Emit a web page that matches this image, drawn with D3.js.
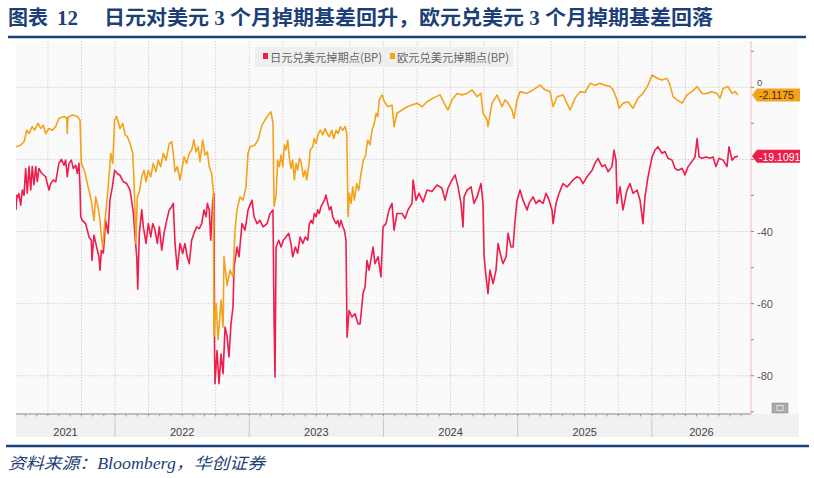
<!DOCTYPE html>
<html><head><meta charset="utf-8">
<script src="https://cdn.jsdelivr.net/npm/d3@7"></script>
<style>body{margin:0;background:#fff}</style>
</head><body><svg id="c" width="814" height="478"></svg>
<script>
// ---- data ----
const titleLead = "图表";
const titleNum = "12";
const titleMain = "日元对美元 3 个月掉期基差回升，欧元兑美元 3 个月掉期基差回落";
const sourceText = "资料来源：Bloomberg，华创证券";
const seriesNames = ["日元兑美元掉期点(BP)", "欧元兑美元掉期点(BP)"];
const yearLabels = [2021, 2022, 2023, 2024, 2025, 2026];
const gridValues = [0, -20, -40, -60, -80];
const axisLabels = [0, -40, -60, -80];
const lastValues = [-19.1091, -2.1175];
const lastLabels = ["-19.1091", "-2.1175"];
// [decimal year, bp]
const jpy = [[2021.262,-34],[2021.269,-29.9],[2021.279,-30.4],[2021.284,-29.5],[2021.297,-32.7],[2021.309,-28.5],[2021.322,-29.9],[2021.334,-22.5],[2021.346,-29.4],[2021.359,-22],[2021.372,-28.5],[2021.383,-22],[2021.396,-27],[2021.409,-22],[2021.421,-26.2],[2021.433,-22.5],[2021.446,-23.4],[2021.456,-23.9],[2021.483,-24.8],[2021.495,-26.7],[2021.508,-28.5],[2021.521,-26.7],[2021.540,-25.7],[2021.558,-26.2],[2021.582,-21.1],[2021.600,-20],[2021.620,-21.6],[2021.632,-20.2],[2021.644,-24.8],[2021.657,-21.1],[2021.674,-20.2],[2021.689,-22.5],[2021.707,-21.6],[2021.719,-23.9],[2021.731,-21.1],[2021.739,-27.6],[2021.744,-35.9],[2021.756,-36.9],[2021.781,-37.8],[2021.806,-41.5],[2021.823,-42.4],[2021.828,-48],[2021.843,-41],[2021.863,-44.3],[2021.880,-47],[2021.888,-50.7],[2021.898,-45.2],[2021.913,-46],[2021.930,-36.9],[2021.948,-40.5],[2021.962,-31.3],[2021.980,-27.6],[2021.997,-23],[2022.017,-23.9],[2022.037,-24.4],[2022.062,-26.2],[2022.087,-26.7],[2022.112,-28.5],[2022.137,-35],[2022.149,-41.5],[2022.162,-47],[2022.169,-56],[2022.181,-40.5],[2022.199,-34],[2022.211,-38.7],[2022.231,-43.3],[2022.248,-37.8],[2022.266,-41.5],[2022.281,-37.8],[2022.298,-39.6],[2022.315,-43.3],[2022.330,-38.7],[2022.348,-45.2],[2022.365,-40.5],[2022.385,-36.9],[2022.404,-34],[2022.422,-33.1],[2022.434,-32.2],[2022.447,-43.3],[2022.464,-50.5],[2022.484,-43.3],[2022.504,-46.1],[2022.521,-43.3],[2022.538,-47],[2022.553,-48.9],[2022.571,-42.4],[2022.588,-40.5],[2022.608,-38.7],[2022.628,-39.2],[2022.646,-37.8],[2022.663,-34],[2022.678,-35.9],[2022.688,-32.2],[2022.702,-34],[2022.713,-42.4],[2022.728,-31.3],[2022.737,-29.4],[2022.741,-71],[2022.745,-82.2],[2022.760,-73],[2022.775,-82.2],[2022.790,-74],[2022.805,-79.4],[2022.820,-66.5],[2022.835,-69],[2022.849,-74.8],[2022.864,-65.6],[2022.879,-61],[2022.887,-49.8],[2022.909,-44.3],[2022.924,-47],[2022.946,-37.8],[2022.969,-39.6],[2022.991,-34],[2023.021,-31.3],[2023.036,-35.9],[2023.058,-37.8],[2023.080,-36.9],[2023.103,-38.7],[2023.133,-37.8],[2023.155,-35],[2023.177,-34],[2023.185,-64.6],[2023.192,-80.4],[2023.200,-44.3],[2023.220,-42.4],[2023.237,-44.3],[2023.254,-42.4],[2023.274,-41.5],[2023.294,-40.5],[2023.311,-43.3],[2023.324,-47],[2023.344,-44.3],[2023.361,-46],[2023.379,-41.5],[2023.399,-43.3],[2023.418,-41.5],[2023.436,-42.4],[2023.448,-37.8],[2023.461,-36.9],[2023.473,-37.8],[2023.485,-35],[2023.498,-35.9],[2023.510,-34],[2023.522,-35],[2023.535,-33.1],[2023.548,-32.2],[2023.560,-31.3],[2023.572,-29.9],[2023.585,-32.2],[2023.597,-34],[2023.610,-33.1],[2023.622,-35.9],[2023.634,-36.9],[2023.647,-37.8],[2023.660,-36.9],[2023.671,-38.7],[2023.684,-36.9],[2023.697,-38.7],[2023.709,-39.6],[2023.721,-42.4],[2023.729,-69.3],[2023.744,-61.9],[2023.766,-63.7],[2023.788,-62.8],[2023.811,-65.6],[2023.826,-65.6],[2023.848,-57.2],[2023.863,-55.4],[2023.878,-48],[2023.893,-50.7],[2023.923,-44.3],[2023.937,-48.9],[2023.960,-47],[2023.982,-52.6],[2023.997,-38.7],[2024.019,-37.8],[2024.042,-34],[2024.064,-32.2],[2024.079,-39.6],[2024.101,-35],[2024.139,-35],[2024.161,-36.4],[2024.183,-34],[2024.213,-32.2],[2024.221,-25.7],[2024.243,-31.3],[2024.265,-29.4],[2024.295,-31.8],[2024.325,-28.5],[2024.362,-28.9],[2024.399,-27.1],[2024.437,-28],[2024.459,-31.3],[2024.481,-28],[2024.511,-25.7],[2024.534,-24.3],[2024.556,-27.6],[2024.578,-32.2],[2024.593,-38.7],[2024.601,-30.4],[2024.623,-28.5],[2024.653,-27.6],[2024.675,-32.2],[2024.698,-30.4],[2024.727,-26.7],[2024.742,-32.2],[2024.750,-47],[2024.765,-52.6],[2024.779,-57.2],[2024.794,-50.7],[2024.817,-54.4],[2024.839,-50.7],[2024.854,-43.3],[2024.876,-47],[2024.891,-48.9],[2024.914,-47],[2024.929,-40.5],[2024.951,-44.3],[2024.966,-44.3],[2024.981,-36.9],[2024.996,-31.3],[2025.018,-28.5],[2025.040,-31.3],[2025.070,-34],[2025.085,-32.2],[2025.115,-30.4],[2025.137,-32.2],[2025.159,-31.3],[2025.189,-32.2],[2025.212,-29.4],[2025.234,-31.3],[2025.256,-34],[2025.264,-37.8],[2025.286,-32.2],[2025.309,-29.4],[2025.338,-26.7],[2025.368,-27.6],[2025.391,-26.7],[2025.413,-25.7],[2025.443,-24.8],[2025.465,-25.2],[2025.487,-26.7],[2025.517,-24.8],[2025.555,-23],[2025.577,-21],[2025.599,-19.7],[2025.629,-22],[2025.651,-21.5],[2025.674,-23.4],[2025.703,-22],[2025.718,-17.4],[2025.733,-20.2],[2025.741,-32.2],[2025.763,-27.6],[2025.785,-34],[2025.815,-28.5],[2025.837,-26.7],[2025.860,-29.4],[2025.890,-28.5],[2025.912,-31.3],[2025.934,-37.8],[2025.949,-30.4],[2025.972,-24.8],[2026.002,-19.3],[2026.024,-17.4],[2026.046,-16.5],[2026.076,-18.3],[2026.098,-17.8],[2026.121,-19.7],[2026.151,-20.2],[2026.173,-22.5],[2026.195,-23],[2026.225,-22.5],[2026.247,-24.3],[2026.270,-22],[2026.299,-20.6],[2026.322,-19.3],[2026.337,-14.2],[2026.352,-19.3],[2026.374,-19.7],[2026.404,-19.3],[2026.434,-19.7],[2026.456,-19.3],[2026.478,-22],[2026.501,-19.7],[2026.531,-20.2],[2026.560,-22],[2026.575,-16.5],[2026.598,-20.2],[2026.620,-19.3],[2026.642,-19.1091]];
const eur = [[2021.262,-16.5],[2021.297,-16],[2021.322,-15.1],[2021.342,-11.9],[2021.359,-12.8],[2021.383,-10.9],[2021.401,-11.9],[2021.426,-10],[2021.446,-11.4],[2021.465,-10.5],[2021.483,-12.8],[2021.508,-11.4],[2021.532,-11.9],[2021.558,-10.9],[2021.582,-8.6],[2021.620,-8.1],[2021.640,-8.5],[2021.644,-12.8],[2021.649,-8.3],[2021.682,-7.7],[2021.719,-8.1],[2021.739,-9.1],[2021.749,-21.1],[2021.774,-23.4],[2021.799,-27.6],[2021.823,-31.3],[2021.843,-36.9],[2021.856,-30.4],[2021.873,-33.1],[2021.888,-36.9],[2021.898,-41.5],[2021.908,-44.3],[2021.923,-37.8],[2021.938,-32.2],[2021.955,-24.8],[2021.968,-18.3],[2021.983,-21.1],[2021.997,-9.1],[2022.012,-8.1],[2022.037,-11.4],[2022.057,-10],[2022.075,-13.2],[2022.092,-13.7],[2022.112,-15.6],[2022.132,-18.3],[2022.142,-26.7],[2022.156,-43.3],[2022.166,-30.4],[2022.181,-29],[2022.199,-24.8],[2022.216,-23],[2022.231,-26.2],[2022.248,-23],[2022.266,-24.8],[2022.285,-21.1],[2022.305,-23.4],[2022.322,-20.2],[2022.340,-22],[2022.360,-18.3],[2022.380,-20.2],[2022.404,-15.6],[2022.422,-15.1],[2022.434,-18.3],[2022.447,-23.4],[2022.464,-22],[2022.484,-25.7],[2022.497,-23],[2022.514,-19.3],[2022.534,-21.1],[2022.553,-18.3],[2022.571,-17.4],[2022.588,-14.6],[2022.603,-17.9],[2022.620,-16.5],[2022.633,-20.6],[2022.653,-14.6],[2022.671,-18.8],[2022.688,-17.9],[2022.702,-22],[2022.720,-23.9],[2022.732,-28.5],[2022.738,-69],[2022.753,-60],[2022.768,-70],[2022.790,-59],[2022.805,-66.5],[2022.812,-47],[2022.835,-55],[2022.857,-50.7],[2022.879,-52.6],[2022.894,-39.6],[2022.909,-34],[2022.931,-30.4],[2022.954,-31.3],[2022.976,-27.6],[2022.991,-18.3],[2023.006,-16.5],[2023.043,-16],[2023.066,-14.6],[2023.095,-10.5],[2023.133,-8.1],[2023.162,-6.8],[2023.177,-10],[2023.185,-33],[2023.200,-30],[2023.212,-20.2],[2023.224,-22],[2023.237,-18.8],[2023.250,-22],[2023.262,-16],[2023.274,-17.4],[2023.287,-14.6],[2023.299,-19.7],[2023.311,-22.5],[2023.324,-20.2],[2023.336,-25.7],[2023.349,-21.1],[2023.361,-23],[2023.373,-19.7],[2023.386,-20.6],[2023.403,-24.8],[2023.418,-23],[2023.428,-25.7],[2023.443,-22],[2023.455,-17.4],[2023.473,-16.5],[2023.485,-14.2],[2023.498,-15.6],[2023.515,-12.8],[2023.530,-11.9],[2023.548,-13.2],[2023.565,-11.4],[2023.580,-12.8],[2023.597,-13.7],[2023.615,-11.9],[2023.630,-14.2],[2023.647,-11.9],[2023.664,-12.8],[2023.679,-10.9],[2023.697,-11.9],[2023.714,-10.9],[2023.727,-12.8],[2023.736,-35.9],[2023.746,-29.4],[2023.759,-32.2],[2023.771,-27.6],[2023.783,-31.3],[2023.801,-26.7],[2023.816,-28.5],[2023.833,-23.9],[2023.850,-20.2],[2023.865,-19.3],[2023.883,-14.6],[2023.900,-16],[2023.915,-11.9],[2023.932,-10],[2023.945,-7.2],[2023.958,-8.1],[2023.969,-3.5],[2023.990,-2.1],[2024.007,-4],[2024.034,-5.4],[2024.064,-4.9],[2024.079,-10.9],[2024.101,-7.2],[2024.139,-6.3],[2024.176,-5.4],[2024.213,-4.9],[2024.250,-4.4],[2024.288,-5.4],[2024.325,-4],[2024.370,-3],[2024.422,-2.1],[2024.459,-4.9],[2024.481,-6.3],[2024.511,-3.5],[2024.548,-1.7],[2024.586,-2.1],[2024.623,-1.7],[2024.660,-0.7],[2024.698,-2.6],[2024.727,-1.7],[2024.742,-7.2],[2024.772,-9],[2024.779,-10.9],[2024.809,-4.4],[2024.847,-2.1],[2024.884,-5.4],[2024.906,-3.5],[2024.929,-4.4],[2024.958,-6.3],[2024.973,-8.6],[2024.996,-3.5],[2025.018,-1.2],[2025.070,-1.7],[2025.115,-0.7],[2025.167,0.6],[2025.204,-0.7],[2025.242,-1.2],[2025.264,-5.4],[2025.294,-2.6],[2025.338,-2.1],[2025.391,-6.3],[2025.428,-3],[2025.465,-1.2],[2025.503,-1.4],[2025.540,1.1],[2025.577,0.6],[2025.614,1.1],[2025.651,0.6],[2025.689,0.2],[2025.711,-0.7],[2025.741,-3.5],[2025.756,-5.8],[2025.785,-4.4],[2025.823,-4],[2025.860,-5.8],[2025.897,-3],[2025.934,-1.7],[2025.972,0.6],[2026.002,3.4],[2026.039,2.5],[2026.076,2],[2026.113,2.5],[2026.136,0.6],[2026.158,-2.6],[2026.188,-3.5],[2026.225,-4.4],[2026.262,-2.1],[2026.299,-1.2],[2026.337,0.2],[2026.374,-1.7],[2026.411,-1.7],[2026.449,-1.2],[2026.486,-1.7],[2026.508,-3],[2026.531,-0.3],[2026.568,0.2],[2026.598,-1.7],[2026.620,-1.2],[2026.642,-2.1175]];

// ---- layout ----
const svg = d3.select("#c");
const L = 16, R = 751, T = 41, B = 414;
const colors = ["#ee1d4c", "#f5a21b"];
const navy = "#1d3f77";

const x = d3.scaleLinear().domain([2021.262, 2026.739]).range([L, R]);
const y = d3.scaleLinear().domain([-90.6, 12.84]).range([B, T]);

// chart frame
svg.append("rect").attr("x", L).attr("y", T).attr("width", 799 - L).attr("height", 437 - T).attr("fill", "#fafafa");
svg.append("rect").attr("x", L).attr("y", B).attr("width", 799 - L).attr("height", 437 - B).attr("fill", "#f1f1f1");

// grid: quarters
const quarters = [];
yearLabels.forEach(yr => [0, 0.25, 0.5, 0.75].forEach(q => { const t = yr + q; if (t > x.domain()[0] && t < x.domain()[1]) quarters.push(t); }));
svg.append("g").selectAll("line").data(quarters).join("line")
  .attr("x1", d => x(d)).attr("x2", d => x(d)).attr("y1", T).attr("y2", B)
  .attr("stroke", "#c9c9c9").attr("stroke-width", 0.8).attr("stroke-dasharray", "1.5,1.5");
svg.append("g").selectAll("line").data(gridValues).join("line")
  .attr("x1", L).attr("x2", R).attr("y1", d => y(d)).attr("y2", d => y(d))
  .attr("stroke", "#c9c9c9").attr("stroke-width", 0.8).attr("stroke-dasharray", "1.5,1.5");

// legend
const lg = svg.append("g");
lg.append("rect").attr("x", 255).attr("y", 47).attr("width", 258).attr("height", 20).attr("fill", "#efefef");
seriesNames.forEach((n, i) => {
  const lx = i === 0 ? 263 : 390;
  lg.append("rect").attr("x", lx).attr("y", 53).attr("width", 5).attr("height", 6).attr("fill", colors[i]);
  lg.append("text").attr("x", lx + 7).attr("y", 61.5).attr("font-size", 11.5)
    .attr("font-family", "'Noto Sans CJK SC', sans-serif").attr("fill", "#666")
    .attr("textLength", 112).attr("lengthAdjust", "spacingAndGlyphs").text(n);
});

// lines
svg.append("clipPath").attr("id", "clip").append("rect").attr("x", L).attr("y", T).attr("width", R - L).attr("height", B - T);
const line = d3.line().x(d => x(d[0])).y(d => y(d[1]));
[jpy, eur].forEach((s, i) => {
  svg.append("path").datum(s).attr("d", line).attr("fill", "none")
    .attr("stroke", colors[i]).attr("stroke-width", 1.6).attr("stroke-linejoin", "round")
    .attr("clip-path", "url(#clip)");
});

// right axis
svg.append("line").attr("x1", R).attr("x2", R).attr("y1", T).attr("y2", B).attr("stroke", "#f3b6c6").attr("stroke-width", 1);
const minor = d3.range(10, -91, -10);
svg.append("g").selectAll("line").data(minor).join("line")
  .attr("x1", R).attr("x2", R + 3).attr("y1", d => y(d)).attr("y2", d => y(d))
  .attr("stroke", "#e0607c").attr("stroke-width", 1);
svg.append("g").selectAll("text").data(axisLabels).join("text")
  .attr("x", 757).attr("y", d => d === 0 ? y(d) - 1.5 : y(d) + 4).attr("font-size", d => d === 0 ? 9.5 : 11)
  .attr("font-family", "'Liberation Sans', Arial, sans-serif").attr("fill", "#555")
  .text(d => String(d));

// last value tags
lastValues.forEach((v, i) => {
  const yc = y(v);
  svg.append("path").attr("d", `M${R + 1},${yc} L${R + 6},${yc - 6.5} L800,${yc - 6.5} L800,${yc + 6.5} L${R + 6},${yc + 6.5} Z`)
    .attr("fill", colors[i]);
  svg.append("text").attr("x", 759).attr("y", yc + 4.5).attr("font-size", 10.5)
    .attr("font-family", "'Liberation Sans', Arial, sans-serif")
    .attr("fill", i === 0 ? "#fff" : "#3a2a10").text(lastLabels[i]);
});

// bottom axis
svg.append("line").attr("x1", L).attr("x2", R).attr("y1", B).attr("y2", B).attr("stroke", "#8a8a8a").attr("stroke-width", 1);
const months = [];
yearLabels.forEach(yr => d3.range(12).forEach(m => { const t = yr + m / 12; if (t > x.domain()[0] && t < x.domain()[1]) months.push(t); }));
svg.append("g").selectAll("line").data(months).join("line")
  .attr("x1", d => x(d)).attr("x2", d => x(d)).attr("y1", B).attr("y2", B + 2.5)
  .attr("stroke", "#8a8a8a").attr("stroke-width", 0.8);
const yearStarts = yearLabels.filter(yr => yr > x.domain()[0]);
svg.append("g").selectAll("line").data(yearStarts).join("line")
  .attr("x1", d => x(d)).attr("x2", d => x(d)).attr("y1", 418).attr("y2", 437)
  .attr("stroke", "#c8c8c8").attr("stroke-width", 1);
svg.append("g").selectAll("text").data(yearLabels).join("text")
  .attr("x", d => (x(Math.max(d, x.domain()[0])) + x(Math.min(d + 1, x.domain()[1]))) / 2)
  .attr("y", 436).attr("text-anchor", "middle").attr("font-size", 11)
  .attr("font-family", "'Liberation Sans', Arial, sans-serif").attr("fill", "#444").text(d => d);

// small icon
svg.append("rect").attr("x", 772).attr("y", 403).attr("width", 16).attr("height", 10).attr("fill", "#a9a9a9").attr("stroke", "#8c8c8c").attr("stroke-width", 0.6);
svg.append("rect").attr("x", 777).attr("y", 405.5).attr("width", 6).attr("height", 5).attr("fill", "none").attr("stroke", "#eee").attr("stroke-width", 0.8);

// title
svg.append("text").attr("x", 8).attr("y", 25).attr("font-size", 20).attr("font-weight", 700)
  .attr("font-family", "'Noto Sans CJK SC', sans-serif").attr("fill", navy).text(titleLead);
svg.append("text").attr("x", 57).attr("y", 25).attr("font-size", 21).attr("font-weight", 700)
  .attr("font-family", "'Liberation Serif', serif").attr("fill", navy).text(titleNum);
svg.append("text").attr("x", 104).attr("y", 25).attr("font-size", 20).attr("font-weight", 700)
  .attr("font-family", "'Liberation Serif', 'Noto Sans CJK SC', serif").attr("fill", navy)
  .attr("textLength", 609).attr("lengthAdjust", "spacingAndGlyphs").text(titleMain);
svg.append("line").attr("x1", 8).attr("x2", 806).attr("y1", 37).attr("y2", 37).attr("stroke", navy).attr("stroke-width", 2.5);
svg.append("line").attr("x1", 6).attr("x2", 809).attr("y1", 446).attr("y2", 446).attr("stroke", navy).attr("stroke-width", 2.5);

// source
svg.append("text").attr("x", 8).attr("y", 469).attr("font-size", 16).attr("font-style", "italic")
  .attr("font-family", "'Liberation Serif', 'Noto Sans CJK SC', serif").attr("fill", navy)
  .attr("textLength", 257).attr("lengthAdjust", "spacingAndGlyphs").text(sourceText);
</script></body></html>
